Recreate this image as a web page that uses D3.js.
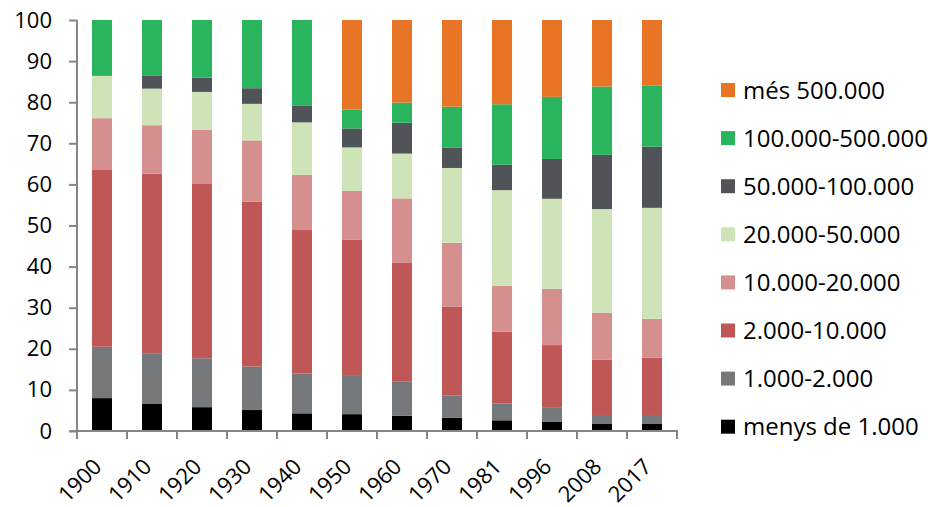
<!DOCTYPE html>
<html><head><meta charset="utf-8">
<script src="https://cdn.jsdelivr.net/npm/d3@7"></script>
<style>body{margin:0;background:#fff}svg{display:block}</style>
</head><body>
<svg id="c" width="928" height="507"></svg>
<script>
const years = ["1900","1910","1920","1930","1940","1950","1960","1970","1981","1996","2008","2017"];
const seriesNames = ["menys de 1.000","1.000-2.000","2.000-10.000","10.000-20.000","20.000-50.000","50.000-100.000","100.000-500.000","més 500.000"];
const colors = ["#000000","#76797C","#BE5755","#D48F8E","#CFE3B8","#505357","#2BB45E","#E87425"];
const menys1000   = [8.0, 6.7, 5.8, 5.1, 4.3, 4.1, 3.7, 3.2, 2.6, 2.2, 1.7, 1.7];
const s1000_2000  = [12.5,12.1,11.9,10.6, 9.7, 9.3, 8.4, 5.4, 4.1, 3.6, 2.2, 2.2];
const s2000_10000 = [43.0,43.8,42.4,40.1,34.9,33.1,28.8,21.6,17.5,15.1,13.4,13.9];
const s10000_20000= [12.6,11.8,13.2,14.9,13.4,11.9,15.7,15.6,11.1,13.7,11.5, 9.5];
const s20000_50000= [10.3, 8.9, 9.2, 8.9,12.8,10.6,10.9,18.2,23.3,21.9,25.2,27.0];
const s50000_100000=[ 0.0, 3.1, 3.5, 3.8, 4.0, 4.6, 7.5, 5.0, 6.2, 9.7,13.2,14.9];
const s100000_500000=[13.6,13.6,14.0,16.6,20.9, 4.6, 4.9, 9.9,14.7,15.1,16.6,14.8];
const mes500000   = [ 0.0, 0.0, 0.0, 0.0, 0.0,21.8,20.1,21.1,20.5,18.7,16.2,16.0];
const yTicks = [0,10,20,30,40,50,60,70,80,90,100];

const allSeries = [menys1000,s1000_2000,s2000_10000,s10000_20000,s20000_50000,s50000_100000,s100000_500000,mes500000];
const rows = years.map((y,i)=>{const r={year:y}; seriesNames.forEach((n,k)=>r[n]=allSeries[k][i]); return r;});
const stack = d3.stack().keys(seriesNames)(rows);

const svg = d3.select("#c");
const font = "'Open Sans', sans-serif";
const x = d3.scaleBand().domain(years).range([77,677]).paddingInner(0.6).paddingOuter(0.3);
const y = d3.scaleLinear().domain([0,100]).range([431,20]);

const g = svg.append("g");
stack.forEach((s,k)=>{
  g.append("g").attr("fill",colors[k]).selectAll("rect").data(s).join("rect")
   .attr("x",d=>x(d.data.year)).attr("width",x.bandwidth())
   .attr("y",d=>y(d[1])).attr("height",d=>Math.max(0,y(d[0])-y(d[1])));
});

// y axis
const ya = svg.append("g").attr("transform","translate(77,0)")
  .call(d3.axisLeft(y).tickValues(yTicks).tickSize(8).tickPadding(17).tickFormat(d3.format("d")));
ya.select(".domain").attr("stroke","#868686").attr("stroke-width",2).attr("d","M0,20V431");
ya.selectAll(".tick line").attr("stroke","#868686").attr("stroke-width",2);
ya.selectAll("text").attr("font-family",font).attr("font-size",22).attr("fill","#000");

// x axis with boundary ticks
const xa = svg.append("g").attr("transform","translate(0,431)");
xa.append("line").attr("x1",70).attr("x2",678).attr("stroke","#868686").attr("stroke-width",2);
const edges = years.map(yv=>x(yv)+x.bandwidth()/2 - x.step()/2);
edges.push(x(years[years.length-1])+x.bandwidth()/2 + x.step()/2);
xa.selectAll("line.t").data(edges).join("line").attr("class","t")
  .attr("x1",d=>d).attr("x2",d=>d).attr("y1",0).attr("y2",8)
  .attr("stroke","#868686").attr("stroke-width",2);
xa.selectAll("text").data(years).join("text")
  .attr("transform",d=>`translate(${x(d)+x.bandwidth()/2+1},37) rotate(-45)`)
  .attr("text-anchor","end")
  .attr("font-family",font).attr("font-size",22).attr("fill","#000").text(d=>d);

// legend
const leg = svg.append("g");
const order = seriesNames.map((n,k)=>k).reverse();
order.forEach((k,i)=>{
  const cy = 90 + i*48.1;
  leg.append("rect").attr("x",721).attr("y",cy-7).attr("width",14).attr("height",14).attr("fill",colors[k]);
  leg.append("text").attr("x",743).attr("y",cy).attr("dy","0.36em")
    .attr("font-family",font).attr("font-size",24).attr("fill","#000").text(seriesNames[k]);
});
</script>
</body></html>
